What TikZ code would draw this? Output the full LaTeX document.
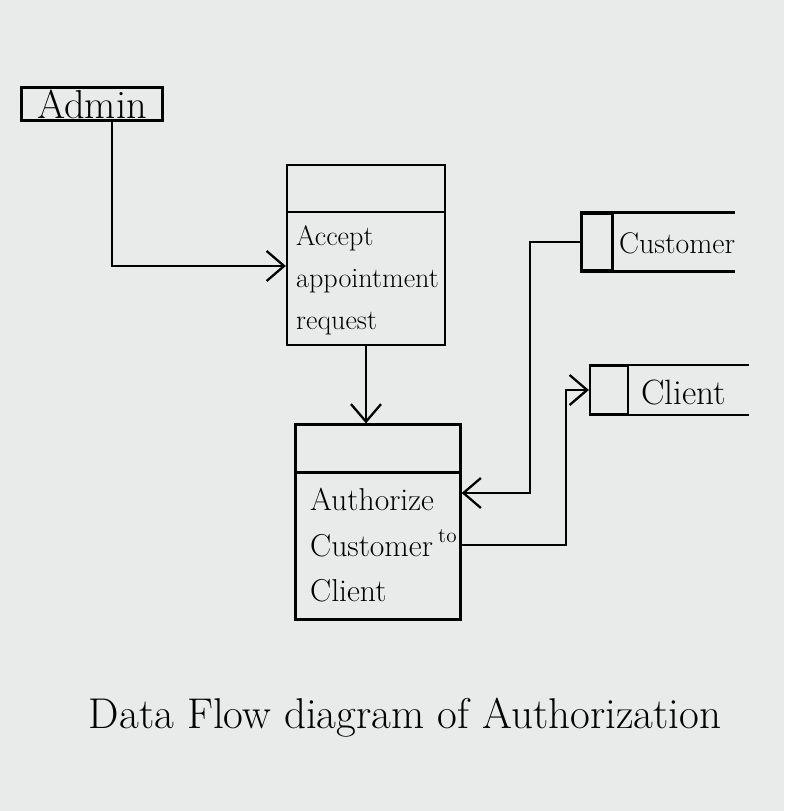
\documentclass[tikz,border=0pt]{standalone}
\usepackage{xcolor}
\usepackage{tikz}
\usetikzlibrary{arrows.meta,positioning}

\definecolor{paper}{RGB}{233,235,235}

\begin{document}
\begin{tikzpicture}[
        x=0.02cm, y=-0.02cm,
        line width=1.3pt,
        box/.style={draw, rectangle, inner sep=0pt, line width=1.3pt},
        flow/.style={-{Straight Barb[length=3.5mm,width=6mm]}},
        txt/.style={inner sep=0pt, align=left, font=\fontsize{16}{24}\selectfont},
    ]
        % Paper
        \fill[paper] (0,0) rectangle (784,811);
        \useasboundingbox (0,0) rectangle (784,811);

        % Define nodes
        \node (admin) [box, minimum width=2.82cm, minimum height=0.66cm] at (92,104) {\fontsize{23}{24}\selectfont Admin};
        \node (p1) [box, minimum width=3.16cm, minimum height=3.6cm] at (366,255) {};
        \node (p2) [box, minimum width=3.3cm, minimum height=3.9cm] at (378,522) {};
        \node (cust) [box, minimum width=0.62cm, minimum height=1.14cm] at (597,242) {};
        \node (client) [box, minimum width=0.76cm, minimum height=0.96cm] at (609,390) {};

        % Process headers
        \draw ([yshift=-0.96cm]p1.north west) -- ([yshift=-0.96cm]p1.north east);
        \draw ([yshift=-0.98cm]p2.north west) -- ([yshift=-0.98cm]p2.north east);

        % Data stores
        \draw (cust.north west) -- +(155,0);
        \draw (cust.south west) -- +(155,0);
        \draw (client.north west) -- +(160,0);
        \draw (client.south west) -- +(160,0);

        % Texts
        \node (p1text) [txt, anchor=north west] at (295,224) {Accept\\appointment\\request};
        \node (p2text) [txt, anchor=north west, font=\fontsize{18}{26}\selectfont] at (309,487) {Authorize\\Customer\,\raisebox{1ex}{\fontsize{12}{12}\selectfont to}\\Client};
        \node (custtext) [txt, anchor=west, font=\fontsize{17}{20}\selectfont] at (618,243) {Customer};
        \node (clienttext) [txt, anchor=west, font=\fontsize{20}{22}\selectfont] at (640,392) {Client};
        \node (title) [inner sep=0pt, font=\fontsize{24.5}{28}\selectfont] at (405,718) {Data Flow diagram of Authorization};

        % Bends
        \coordinate (a1) at (112,266);
        \coordinate (k1) at (530,493);
        \coordinate (k2) at (566,545);

        % Define arrows
        \draw [flow] (admin.south -| a1) |- (p1.west |- a1);
        \draw [flow] (p1.south) -- (p1.south |- p2.north);
        \draw [flow] (cust.west) -| (k1) -- (p2.east |- k1);
        \draw [flow] (p2.east |- k2) -- (k2) |- (client.west);
    \end{tikzpicture}
\end{document}
